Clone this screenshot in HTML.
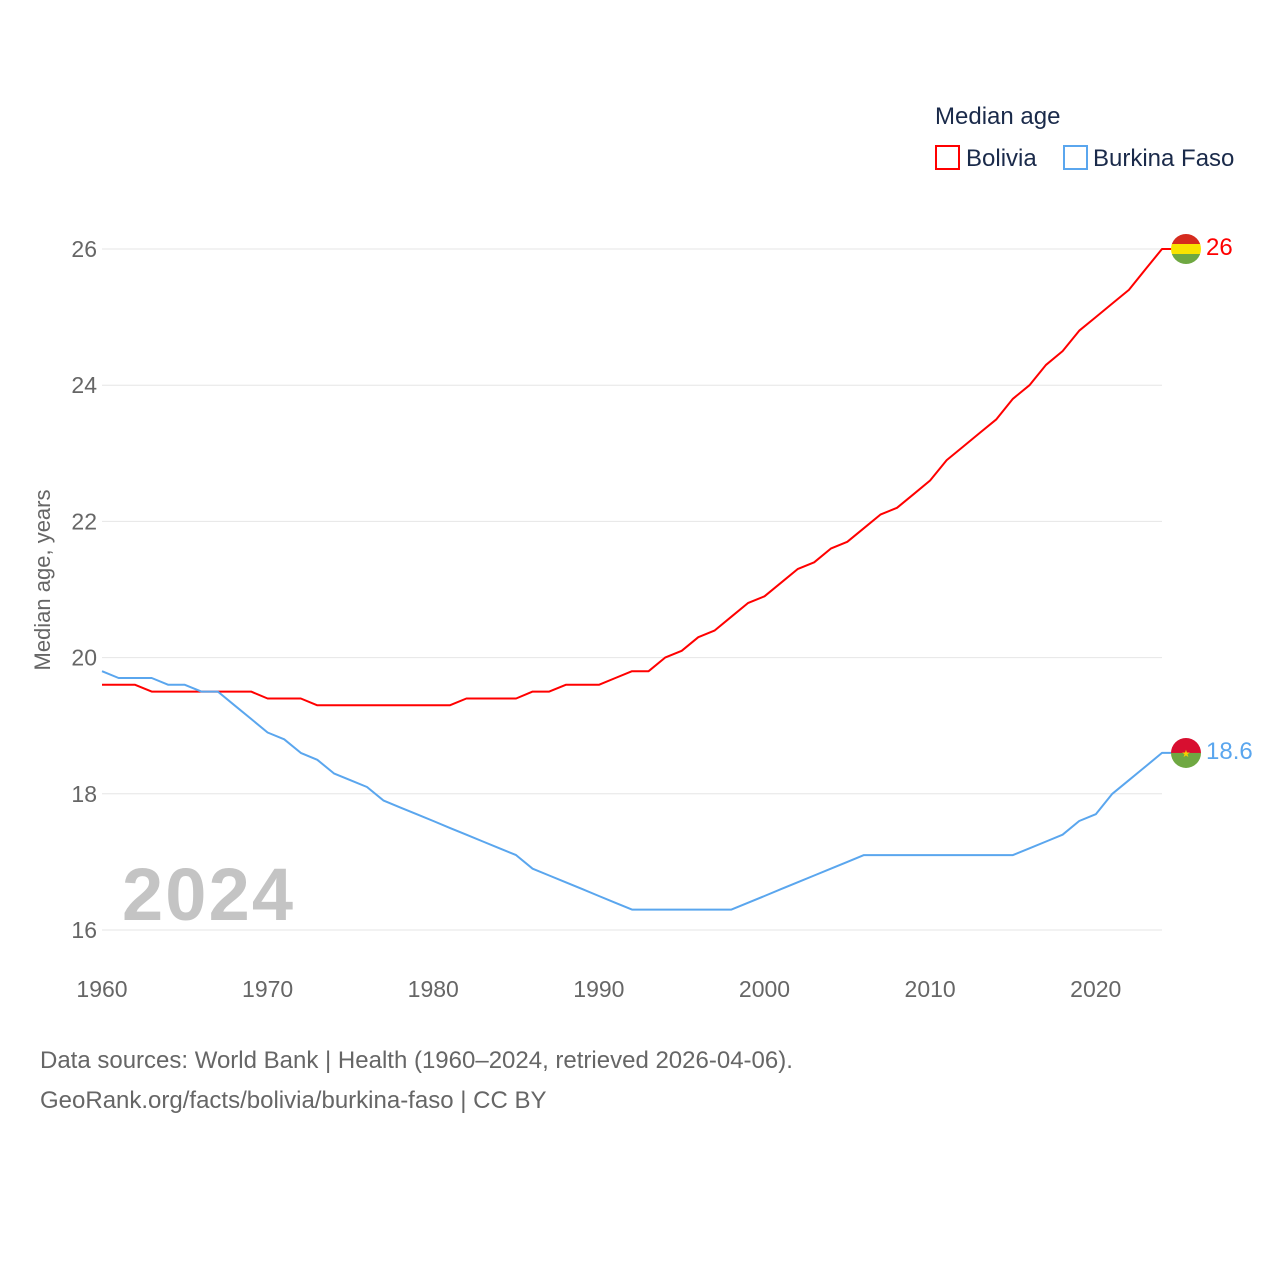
<!DOCTYPE html>
<html><head><meta charset="utf-8"><style>
body{margin:0;background:#fff;width:1280px;height:1280px;overflow:hidden;font-family:"Liberation Sans",sans-serif}
</style></head><body>
<svg width="1280" height="1280" style="font-family:'Liberation Sans',sans-serif">
<text x="935" y="124" font-size="24" fill="#1a2a4a">Median age</text>
<g><rect x="936" y="146" width="23" height="23" fill="none" stroke="#ff0000" stroke-width="2"/><text x="966" y="166" font-size="24" fill="#1a2a4a">Bolivia</text></g>
<g><rect x="1064" y="146" width="23" height="23" fill="none" stroke="#5aa6ee" stroke-width="2"/><text x="1093" y="166" font-size="24" fill="#1a2a4a">Burkina Faso</text></g>
<g id="grid"></g><g id="yt"></g><g id="xt"></g><g id="lines"></g>
<text x="122" y="920" font-size="74" font-weight="bold" fill="#c4c4c4" textLength="171">2024</text>
<text transform="translate(50,580) rotate(-90)" text-anchor="middle" font-size="22" fill="#666">Median age, years</text>
<text x="40" y="1068" font-size="24" fill="#666">Data sources: World Bank | Health (1960–2024, retrieved 2026-04-06).</text>
<text x="40" y="1108" font-size="24" fill="#666">GeoRank.org/facts/bolivia/burkina-faso | CC BY</text>
</svg>
<script>
const years=[];for(let y=1960;y<=2024;y++)years.push(y);
const bolivia=[19.6,19.6,19.6,19.5,19.5,19.5,19.5,19.5,19.5,19.5,19.4,19.4,19.4,19.3,19.3,19.3,19.3,19.3,19.3,19.3,19.3,19.3,19.4,19.4,19.4,19.4,19.5,19.5,19.6,19.6,19.6,19.7,19.8,19.8,20.0,20.1,20.3,20.4,20.6,20.8,20.9,21.1,21.3,21.4,21.6,21.7,21.9,22.1,22.2,22.4,22.6,22.9,23.1,23.3,23.5,23.8,24.0,24.3,24.5,24.8,25.0,25.2,25.4,25.7,26.0];
const burkina=[19.8,19.7,19.7,19.7,19.6,19.6,19.5,19.5,19.3,19.1,18.9,18.8,18.6,18.5,18.3,18.2,18.1,17.9,17.8,17.7,17.6,17.5,17.4,17.3,17.2,17.1,16.9,16.8,16.7,16.6,16.5,16.4,16.3,16.3,16.3,16.3,16.3,16.3,16.3,16.4,16.5,16.6,16.7,16.8,16.9,17.0,17.1,17.1,17.1,17.1,17.1,17.1,17.1,17.1,17.1,17.1,17.2,17.3,17.4,17.6,17.7,18.0,18.2,18.4,18.6];
const yTicks=[16,18,20,22,24,26];
const xTicks=[1960,1970,1980,1990,2000,2010,2020];
const NS="http://www.w3.org/2000/svg";
const X=v=>102+(v-1960)*(1162-102)/64;
const Y=v=>930-(v-16)*(930-249)/10;
function mk(t,a,p){const e=document.createElementNS(NS,t);for(const k in a)e.setAttribute(k,a[k]);p.appendChild(e);return e;}
const grid=document.getElementById('grid'),yt=document.getElementById('yt'),xt=document.getElementById('xt'),ln=document.getElementById('lines');
yTicks.forEach(v=>{
 const l=mk('line',{x1:102,x2:1162,y1:Y(v),y2:Y(v),stroke:'#e6e6e6','stroke-width':1},grid);
 
 
 const t=mk('text',{x:97,y:Y(v)+8,'text-anchor':'end','font-size':23,fill:'#666'},yt);t.textContent=v;
 
 
});
xTicks.forEach(v=>{
 const t=mk('text',{x:X(v),y:997,'text-anchor':'middle','font-size':23,fill:'#666'},xt);t.textContent=v;
 
 
});
function series(vals,col,name,flag){
 let d=vals.map((v,i)=>(i?'L':'M')+X(years[i]).toFixed(1)+' '+Y(v).toFixed(1)).join(' ');
 const last=vals[vals.length-1];
 d+=' L'+(X(2024)+10)+' '+Y(last).toFixed(1);
 const p=mk('path',{d:d,fill:'none',stroke:col,'stroke-width':2,'stroke-linejoin':'round'},ln);
 
 
 const g=mk('g',{},ln);
 
 
 const cx=1186,cy=Y(last);
 const cp=mk('clipPath',{id:'c'+name},g);mk('circle',{cx:cx,cy:cy,r:15},cp);
 flag.forEach((c,i)=>mk('rect',{x:cx-15,y:cy-15+i*30/flag.length,width:30,height:30/flag.length+0.5,fill:c,'clip-path':'url(#c'+name+')'},g));
 if(name==='burkina')mk('text',{x:cx,y:cy+4,'text-anchor':'middle','font-size':10,fill:'#f8d000'},g).textContent='★';
 const t=mk('text',{x:1206,y:cy+6,'font-size':24,fill:col},ln);t.textContent=last;
 
 
}
series(bolivia,'#ff0000','bolivia',['#d52b1e','#f9e300','#6fa842']);
series(burkina,'#5aa6ee','burkina',['#d80f30','#6fa842']);
</script>
</body></html>
